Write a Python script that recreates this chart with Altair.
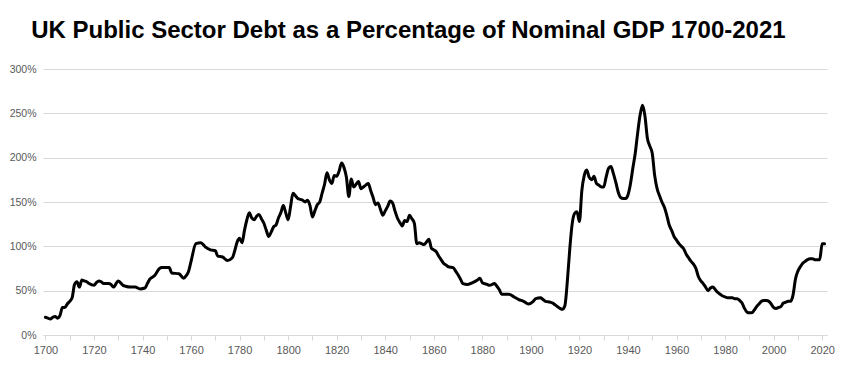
import altair as alt
import pandas as pd

years = [1700, 1701, 1702, 1703, 1704, 1705, 1706, 1707, 1708, 1709, 1710, 1711, 1712, 1713, 1714,
         1715, 1716, 1717, 1718, 1720, 1721, 1722, 1723, 1724, 1726, 1727, 1728, 1730, 1732, 1733,
         1735, 1737, 1739, 1741, 1742, 1743, 1745, 1747, 1748, 1751, 1752, 1755, 1757, 1758, 1759,
         1760, 1762, 1764, 1765, 1766, 1768, 1770, 1771, 1773, 1775, 1777, 1778, 1779, 1780, 1781,
         1782, 1783, 1784, 1785, 1786, 1787, 1788, 1789, 1790, 1791, 1792, 1793, 1794, 1795, 1796,
         1797, 1798, 1799, 1800, 1801, 1802, 1803, 1804, 1805, 1806, 1807, 1808, 1809, 1810, 1811,
         1812, 1813, 1814, 1815, 1816, 1817, 1818, 1819, 1820, 1821, 1822, 1823, 1824, 1825, 1826,
         1827, 1828, 1829, 1830, 1831, 1832, 1833, 1834, 1835, 1836, 1837, 1838, 1839, 1840, 1841,
         1842, 1843, 1844, 1845, 1846, 1847, 1848, 1849, 1850, 1851, 1852, 1853, 1854, 1855, 1856,
         1857, 1858, 1859, 1860, 1861, 1862, 1863, 1864, 1865, 1866, 1868, 1869, 1870, 1871, 1872,
         1874, 1876, 1878, 1879, 1880, 1882, 1883, 1885, 1886, 1887, 1888, 1890, 1891, 1893, 1895,
         1897, 1899, 1901, 1902, 1904, 1905, 1906, 1908, 1909, 1910, 1912, 1913, 1914, 1915, 1916,
         1917, 1918, 1919, 1920, 1921, 1922, 1923, 1924, 1925, 1926, 1927, 1928, 1929, 1930, 1931,
         1932, 1933, 1934, 1935, 1936, 1937, 1938, 1939, 1940, 1941, 1942, 1943, 1944, 1945, 1946,
         1947, 1948, 1949, 1950, 1951, 1952, 1953, 1954, 1955, 1956, 1957, 1958, 1959, 1960, 1961,
         1962, 1963, 1964, 1965, 1966, 1967, 1968, 1969, 1970, 1971, 1972, 1973, 1974, 1975, 1976,
         1977, 1978, 1979, 1980, 1981, 1982, 1983, 1984, 1985, 1986, 1987, 1988, 1989, 1990, 1991,
         1992, 1993, 1994, 1995, 1996, 1997, 1998, 1999, 2000, 2001, 2002, 2003, 2004, 2005, 2006,
         2007, 2008, 2009, 2010, 2011, 2012, 2013, 2014, 2015, 2016, 2017, 2018, 2019, 2020, 2021]

debt_pct = [20, 19, 18, 20, 21, 19, 22, 31, 31, 35, 38, 42, 57, 60, 54,
            62, 61, 60, 58, 56, 59, 61, 60, 58, 58, 57, 54, 61, 56, 55,
            54, 54, 52, 53, 58, 63, 67, 75, 76, 76, 70, 69, 64, 67, 72,
            83, 103, 104, 102, 99, 96, 95, 89, 88, 84, 87, 95, 105, 109, 104,
            118, 130, 138, 132, 130, 134, 136, 131, 126, 118, 111, 116, 122, 124, 132,
            138, 146, 138, 130, 145, 160, 157, 154, 153, 152, 150, 152, 146, 133, 140,
            147, 150, 160, 170, 183, 175, 171, 180, 179, 185, 194, 189, 178, 156, 176,
            167, 170, 173, 165, 167, 169, 171, 163, 155, 147, 149, 142, 135, 140, 145,
            151, 149, 140, 132, 127, 123, 129, 128, 135, 131, 126, 103, 104, 103, 102,
            105, 108, 98, 96, 94, 89, 85, 81, 79, 77, 76, 72, 68, 63, 58,
            57, 59, 62, 64, 59, 57, 56, 58, 55, 51, 46, 46, 46, 43, 40,
            38, 35, 38, 41, 42, 40, 38, 37, 36, 34, 30, 29, 33, 60, 96,
            125, 137, 139, 128, 163, 180, 186, 178, 175, 179, 171, 169, 167, 167, 178,
            188, 190, 182, 172, 161, 155, 154, 154, 158, 170, 188, 205, 228, 248, 259,
            247, 222, 213, 205, 180, 165, 157, 150, 144, 135, 124, 118, 111, 107, 103,
            100, 97, 91, 87, 83, 80, 75, 66, 61, 58, 54, 50, 53, 54, 51,
            48, 46, 44, 43, 42, 42, 42, 41, 41, 39, 36, 30, 26, 25, 25,
            28, 32, 35, 38, 39, 39, 38, 35, 31, 30, 31, 32, 36, 37, 38,
            38, 45, 63, 72, 77, 81, 83, 85, 86, 86, 85, 85, 85, 103, 103]

x_ticks = list(range(1700, 2021, 10))
y_ticks = [0, 50, 100, 150, 200, 250, 300]
title_text = "UK Public Sector Debt as a Percentage of Nominal GDP 1700-2021"

df = pd.DataFrame({"year": years, "debt": debt_pct})

FONT = "Liberation Sans"
GREY = "#d9d9d9"
LABEL = "#595959"

chart = alt.Chart(df).mark_line(
    color="black", strokeWidth=3, interpolate="monotone",
    strokeJoin="round", strokeCap="round"
).encode(
    x=alt.X("year:Q",
            scale=alt.Scale(domain=[1699, 2022], nice=False, zero=False),
            axis=alt.Axis(values=x_ticks, title=None, grid=False,
                          labelExpr="datum.value % 20 == 0 ? '' + datum.value : ''",
                          labelOverlap=False, tickColor=GREY, domainColor=GREY,
                          tickSize=5, labelPadding=4, labelColor=LABEL,
                          labelFontSize=11, labelFont=FONT)),
    y=alt.Y("debt:Q",
            scale=alt.Scale(domain=[0, 300], nice=False),
            axis=alt.Axis(values=y_ticks, title=None, domain=False, ticks=False,
                          labelExpr="datum.value + '%'", gridColor=GREY,
                          labelPadding=7, labelColor=LABEL, labelFontSize=10.5,
                          labelFont=FONT)),
).properties(
    width=784, height=266,
    title=alt.TitleParams(title_text, font=FONT, fontSize=24, fontWeight="bold",
                          color="black", anchor="start", dx=22, offset=21),
    padding={"left": 35, "top": 61, "right": 15, "bottom": 35},
    autosize="none",
).configure_view(stroke=None)

chart.save("out.html", embed_options={"renderer": "svg", "actions": False})
